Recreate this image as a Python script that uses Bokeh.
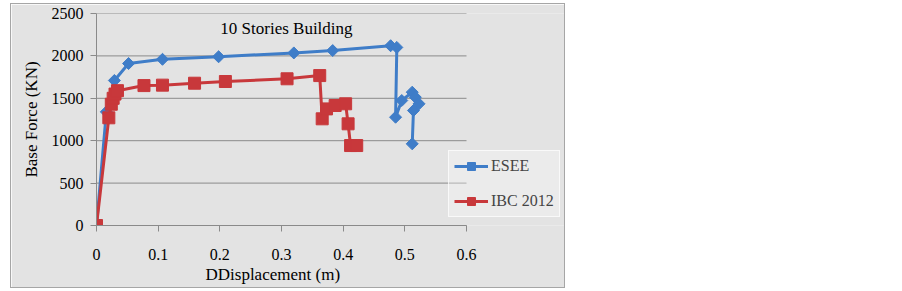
import math
from bokeh.plotting import figure
from bokeh.models import (Legend, LegendItem, FixedTicker, Label, Title,
                          CustomJSTickFormatter, Range1d)
from bokeh.embed import file_html
from bokeh.resources import INLINE

# ---- data ----
esee_x = [0, 0.016, 0.029, 0.052, 0.107, 0.198, 0.320, 0.383, 0.477, 0.487,
          0.485, 0.495, 0.512, 0.517, 0.523, 0.514, 0.512]
esee_y = [0, 1340, 1710, 1910, 1960, 1990, 2035, 2063, 2120, 2100,
          1277, 1474, 1572, 1513, 1435, 1356, 963]

ibc_x = [0, 0.020, 0.024, 0.027, 0.030, 0.034, 0.077, 0.107, 0.159, 0.209,
         0.309, 0.362, 0.366, 0.373, 0.387, 0.404, 0.408, 0.412, 0.422]
ibc_y = [0, 1270, 1430, 1500, 1550, 1590, 1650, 1655, 1678, 1698,
         1730, 1768, 1258, 1375, 1415, 1435, 1199, 943, 943]

x_ticks = [0, 0.1, 0.2, 0.3, 0.4, 0.5, 0.6]
y_ticks = [0, 500, 1000, 1500, 2000, 2500]

title_text = "10 Stories Building"
x_label = "DDisplacement (m)"
y_label = "Base Force (KN)"
series_names = ["ESEE", "IBC 2012"]

# ---- styling ----
BG = "#e3e3e3"
BLUE = "#3f7dc8"
RED = "#c8383b"
GRID = "#8a8a8a"
SERIF = "Liberation Serif"

X_MIN, X_MAX = x_ticks[0], x_ticks[-1]
AXIS_PX = 370          # pixels spanned by the 0..0.6 axis
FRAME_PX = 468         # frame extends to the right to hold the legend

p = figure(frame_width=FRAME_PX, frame_height=212,
           x_range=Range1d(X_MIN, X_MAX * FRAME_PX / AXIS_PX),
           y_range=Range1d(y_ticks[0], y_ticks[-1]),
           output_backend="svg", toolbar_location=None,
           min_border_left=85, min_border_right=0,
           min_border_top=9, min_border_bottom=62,
           background_fill_color=BG, border_fill_color=BG,
           outline_line_color=None)
p.styles = {"margin-left": "10px", "margin-top": "3px",
            "border": "1px solid #a6a6a6"}

p.xgrid.grid_line_color = None
p.ygrid.grid_line_color = None
# horizontal gridlines only across the 0..0.6 axis span
p.segment(x0=[X_MIN] * len(y_ticks), x1=[X_MAX] * len(y_ticks),
          y0=y_ticks, y1=y_ticks, line_color=GRID, line_width=1)

p.xaxis.ticker = FixedTicker(ticks=x_ticks)
p.yaxis.ticker = FixedTicker(ticks=y_ticks)
p.xaxis.bounds = (X_MIN, X_MAX)
p.xaxis.formatter = CustomJSTickFormatter(
    code="return (Math.round(tick*10)/10).toString();")

for ax in (p.xaxis[0], p.yaxis[0]):
    ax.axis_line_color = GRID
    ax.major_tick_line_color = GRID
    ax.major_tick_out = 6
    ax.major_tick_in = 0
    ax.minor_tick_line_color = None
    ax.major_label_text_font = SERIF
    ax.major_label_text_font_size = "16px"
    ax.major_label_text_color = "black"
    ax.axis_label_text_font = SERIF
    ax.axis_label_text_font_size = "17px"
    ax.axis_label_text_font_style = "normal"
    ax.axis_label_text_color = "black"

p.yaxis.axis_label = y_label
p.xaxis.major_label_standoff = 17
p.yaxis.major_label_standoff = 7
p.yaxis.axis_label_standoff = 8

# x-axis label as a below-panel title so it can be offset like the original
p.add_layout(Title(text=x_label, align="left", offset=109, standoff=0,
                   text_font=SERIF, text_font_size="17px",
                   text_font_style="normal", text_color="black"), "below")

l1 = p.line(esee_x, esee_y, line_width=3, color=BLUE)
s1 = p.scatter(esee_x, esee_y, marker="square", angle=math.pi / 4, size=8.5,
               color=BLUE)
l2 = p.line(ibc_x, ibc_y, line_width=3, color=RED)
s2 = p.scatter(ibc_x, ibc_y, marker="square", size=12, color=RED)

legend = Legend(items=[LegendItem(label=series_names[0], renderers=[l1, s1]),
                       LegendItem(label=series_names[1], renderers=[l2, s2])],
                location=(352, 8), glyph_width=34, glyph_height=20,
                label_standoff=3, spacing=15, padding=5, margin=0,
                label_text_font=SERIF, label_text_font_size="16px",
                background_fill_color="white", background_fill_alpha=0.3,
                border_line_color="white", border_line_alpha=0.7)
p.add_layout(legend)

p.add_layout(Label(x=0.308, y=2322, text=title_text, text_font=SERIF,
                   text_font_size="17px", text_align="center",
                   text_baseline="middle", text_color="black"))

open("out.html", "w").write(file_html(p, INLINE))
